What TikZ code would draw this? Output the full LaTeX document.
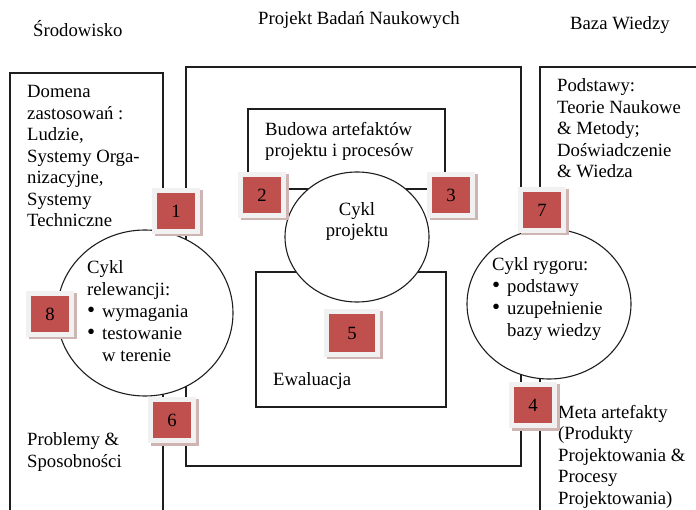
\documentclass[tikz,border=0pt]{standalone}
\usepackage{fontspec}
\setmainfont{Liberation Serif}
\usetikzlibrary{shapes.geometric,shadows}
\definecolor{boxred}{HTML}{C0504D}
\definecolor{framegray}{HTML}{F1F1F1}
\definecolor{shadowpink}{HTML}{CFB4B4}
\definecolor{inkline}{HTML}{1E1E1E}
\newcommand\bul{\makebox[15pt][l]{\fontsize{23}{21.5}\selectfont\textbullet}}
\begin{document}
\begin{tikzpicture}[x=1pt,y=-1pt,
  frame/.style={draw=inkline, line width=1.2pt},
  cyclenode/.style={ellipse, draw=inkline, line width=1.1pt, fill=white, inner sep=0pt},
  % multi-line labels are placed by the baseline of their last line
  label/.style={anchor=base west, inner sep=0pt, align=left,
    font=\fontsize{18.7}{21.5}\selectfont, text=black},
  numbox/.style={fill=boxred, minimum width=38pt, minimum height=36pt, inner sep=0pt,
    font=\fontsize{18.7}{21.5}\selectfont, text=black,
    general shadow={draw=shadowpink, fill=shadowpink, line width=10pt,
      shadow xshift=2.5pt, shadow yshift=-2.5pt},
    preaction={draw=framegray, line width=10pt}}]
\useasboundingbox (0,0) rectangle (696,510);
\clip (0,0) rectangle (696,510);

% column headings
\node[label] (hEnv) at (33,37) {Środowisko};
\node[label] (hProj) at (258,25) {Projekt Badań Naukowych};
\node[label] (hKb) at (570,30) {Baza Wiedzy};

% the three columns and the two inner boxes
\draw[frame] (10,73) rectangle (163,540);
\draw[frame] (186,67) rectangle (521,466);
\draw[frame] (540,67) rectangle (730,540);
\draw[frame] (248,109) rectangle (445,189);
\draw[frame] (256,272) rectangle (446,407);

% the three cycles
\node[cyclenode, minimum width=176pt, minimum height=166pt] (relev) at (145,313) {};
\node[cyclenode, minimum width=144pt, minimum height=130pt] (design) at (357,237) {};
\node[cyclenode, minimum width=164pt, minimum height=150pt] (rigor) at (549,304) {};

% texts
\node[label] (domain) at (27,227) {Domena\\zastosowań :\\Ludzie,\\Systemy Orga-\\nizacyjne,\\Systemy\\Techniczne};
\node[label] (problems) at (27,467) {Problemy \&\\Sposobności};
\node[label] (build) at (265,157) {Budowa artefaktów\\projektu i procesów};
\node[label, align=center, anchor=base] (designtxt) at (357,237) {Cykl\\projektu};
\node[label] (evaltxt) at (273,385) {Ewaluacja};
\node[label, font=\fontsize{18.7}{22.2}\selectfont] (relevtxt) at (87,362) {Cykl\\relewancji:\\\bul wymagania\\\bul testowanie\\\hspace*{15pt}w terenie};
\node[label] (found) at (557,178) {Podstawy:\\Teorie Naukowe\\\& Metody;\\Doświadczenie\\\& Wiedza};
\node[label, font=\fontsize{18.7}{22}\selectfont] (rigortxt) at (492,337) {Cykl rygoru:\\\bul podstawy\\\bul uzupełnienie\\\hspace*{15pt}bazy wiedzy};
\node[label] (meta) at (558,504) {Meta artefakty\\(Produkty\\Projektowania \&\\Procesy\\Projektowania)};

% numbered markers
\node[numbox] (n1) at (176,211) {1};
\node[numbox] (n2) at (262,195) {2};
\node[numbox] (n3) at (451,195) {3};
\node[numbox] (n4) at (533,405) {4};
\node[numbox, minimum width=46pt, minimum height=38pt] (n5) at (352,333) {5};
\node[numbox] (n6) at (172,420) {6};
\node[numbox] (n7) at (542,210) {7};
\node[numbox] (n8) at (50,314) {8};
\end{tikzpicture}
\end{document}
